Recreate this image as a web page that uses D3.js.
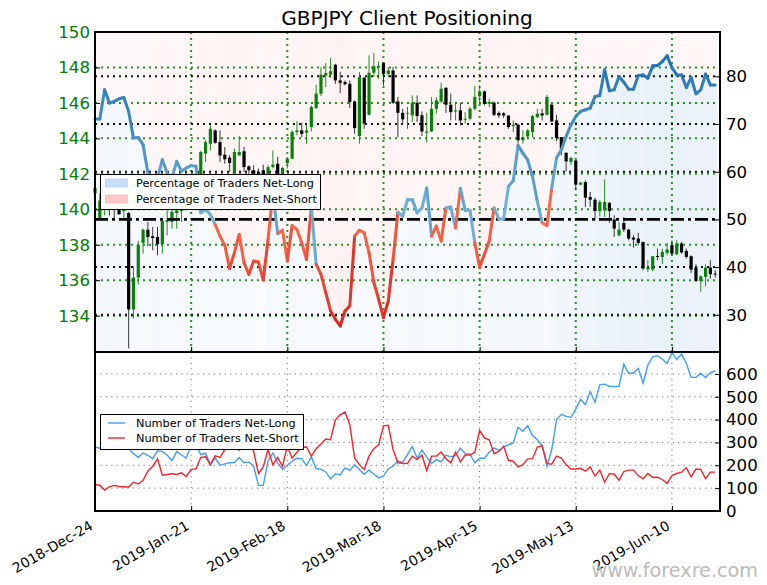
<!DOCTYPE html>
<html>
<head>
<meta charset="utf-8">
<script src="https://cdn.jsdelivr.net/npm/d3@7"></script>
<style>
  html, body { margin: 0; padding: 0; background: #fff; }
  text { font-family: "DejaVu Sans", sans-serif; }
</style>
</head>
<body>
<div id="chart"></div>
<script>
// daily candles, one row per trading day: open, high, low, close
var candles = [
[140.9,141.3,140.5,141.2],[139.47,140.9,139.4,140.5],[140.4,141,139.66,140.7],[140.8,141.1,139.66,140.3],[140.4,140.8,139.47,140.2],
[140.2,140.6,139.7,139.72],[139.9,140.5,139.42,140.2],[139.79,139.85,132.15,134.35],[134.35,136.79,133.84,136.15],[136.15,138.22,135.76,137.97],
[138.1,138.91,137.5,138.85],[138.85,139.29,137.91,138.44],[138.48,139,137.69,138.38],[138.44,139,137.41,138.03],[138.03,139.47,137.5,139.34],
[139.29,139.94,138.53,139.38],[139.29,140.32,138.91,139.85],[139.79,140.4,138.91,139.94],[139.9,140.6,139.29,140.2],[140.2,141,140,140.7],
[140.9,141.2,140.2,140.5],[140.6,141.7,140.3,141.4],[141.9,143.3,140.3,143.23],[143.14,143.89,142.67,143.79],[143.7,144.73,143.32,144.54],
[144.45,144.51,143.7,143.75],[143.79,144.45,142.67,143.04],[143.08,143.51,142.57,142.82],[142.91,143.04,142.1,142.61],[142,143.42,141.9,143.23],
[143.04,144.13,143.04,143.23],[143.27,143.51,142.1,142.38],[142.42,142.48,142,142.2],[142.2,142.48,141.8,142],[142.1,142.3,141.7,141.9],
[142.2,142.52,141.7,141.9],[141.9,142.48,141.7,142.38],[142.38,143.32,142.3,142.52],[142.57,142.95,141.9,142],[141.9,142.4,141.8,142.33],
[142.61,142.95,142.3,142.85],[142.85,144.45,142.85,144.36],[144.36,144.98,144.17,144.45],[144.45,144.88,144.07,144.26],[144.32,144.77,143.7,144.45],
[144.64,145.86,144.39,145.77],[145.71,147.02,145.67,146.52],[146.52,148.02,146.38,147.59],[147.55,148.24,146.89,147.68],[147.6,148.54,147.45,147.79],
[148.15,148.2,147.08,147.27],[147.27,147.74,146.55,147.13],[147.17,147.27,146.98,147.06],[147.08,147.27,145.71,146.05],[146.08,146.14,144.26,144.58],
[144.13,147.74,143.7,147.45],[147.42,147.45,144.54,144.83],[145.33,148.68,145.3,147.7],[147.7,148.81,147.45,148.07],[148.01,148.34,147.36,148.07],
[148.26,148.3,146.98,147.64],[147.64,148.02,147.45,147.83],[147.83,148.02,145.95,146.01],[146.08,146.33,144.07,145.44],[145.44,145.67,144.83,145.07],
[145.39,145.77,144.54,145.44],[145.3,146.42,144.92,146.01],[146.01,146.42,144.92,145.26],[145.3,145.52,144.13,144.39],[144.32,145.45,143.79,144.39],
[144.39,146.33,144.36,145.67],[145.67,146.33,145.39,146.14],[146.08,147.14,146.01,146.8],[146.85,146.89,145.44,145.9],[145.9,146.52,145.01,145.48],
[145.52,146.01,145.01,145.58],[145.58,146.01,144.73,145.01],[145.05,145.48,144.83,145.11],[145.11,145.77,145.01,145.67],[145.67,146.95,145.58,146.33],
[146.38,146.99,145.95,146.65],[146.65,146.7,145.86,145.95],[145.95,146.23,145.77,146.05],[146.01,146.08,145.26,145.33],[145.44,145.52,145.15,145.29],
[145.41,145.48,145.15,145.29],[145.29,145.29,144.54,144.64],[144.69,145.01,144.36,144.77],[144.77,144.83,143.7,143.89],[143.89,144.45,143.7,144.07],
[144.11,144.54,143.98,144.45],[144.36,145.33,144.07,145.26],[145.2,145.67,145.15,145.39],[145.41,145.67,145.01,145.29],[145.33,146.46,145.3,146.33],
[145.9,145.95,144.92,144.95],[145.01,145.33,143.83,144.02],[144.07,144.07,143.04,143.42],[143.19,143.19,142.14,142.7],[142.67,142.95,142.48,142.89],
[142.76,142.76,141.07,141.39],[141.39,141.54,141.35,141.5],[141.54,141.63,140.13,140.66],[140.69,140.98,140.13,140.54],[140.54,140.66,139.38,139.9],
[139.9,140.51,139.6,140.41],[139.94,141.69,139.57,140.41],[140.36,140.41,139.23,139.9],[139.42,139.66,138.44,138.91],[138.53,139.29,138.48,138.85],
[139.23,139.57,138.72,138.85],[138.85,138.91,138.25,138.35],[138.4,138.53,137.84,138.29],[138.35,138.67,137.97,138.1],[138.16,138.16,136.56,136.66],
[136.62,137.13,136.47,136.71],[136.6,137.37,136.51,137.35],[137.37,137.78,137.13,137.31],[137.31,137.78,136.9,137.6],[137.54,138.1,137.41,137.73],
[137.97,138.25,137.41,137.5],[137.46,138.25,137.41,138.07],[138.07,138.16,137.5,137.56],[137.65,137.78,137.22,137.31],[137.35,137.41,136.41,136.6],
[136.71,136.9,135.9,135.96],[135.96,136.28,135.34,136.22],[136.19,136.9,135.66,136.71],[136.71,137.13,136.09,136.34],[136.37,136.56,136.15,136.32]
];

// percentage of traders net long, same days
var pctLong = [
71.04,71.04,77.18,74.39,74.74,75.29,75.57,72.64,67.06,67.2,65.67,59.74,55.9,58.7,62.53,59.74,58.7,62.18,60.09,60.79,
61.28,61.14,51.4,52.07,51.03,48.94,46.5,44.55,39.67,43.02,46.85,40.92,38.48,41.27,41.06,37.29,45.8,55.55,47.04,47.74,
41.27,48.73,47.9,45.1,41.6,52.67,40.56,38.48,34.64,30.8,29.06,27.66,30.8,31.85,46.5,47.74,47.19,43,36.77,33.26,
29.41,32.9,41.6,51.5,50.66,54.15,54.15,51.4,52.4,56.6,46.5,48.6,45.45,52.4,52.6,48.2,56.5,51.9,51.9,45.1,
39.9,42.7,45.45,52.4,50.1,50.1,56.95,58.1,65.5,63.9,62.5,59,53.8,49.3,48.7,56.6,62.88,64.62,67.4,69.85,
71.6,72.64,73,73.34,75.78,75.99,81.36,76.97,77.18,79.97,78.78,77.3,77.3,80.17,80.3,79.6,82.2,82.27,83.1,84.3,
81.85,80.3,80.3,77.66,79.76,76.34,77.18,80.5,78.2,78.2
];

var numLong = [
280,275,290,298,290,283,276,273,251,235,254,244,229,263,261,245,221,260,245,232,
290,290,247,253,203,232,200,206,211,212,234,211,215,196,112,112,218,254,211,182,
200,218,231,228,199,237,186,182,171,141,163,158,189,177,202,182,161,180,161,145,
153,184,196,219,214,247,282,232,267,237,208,225,215,245,237,243,275,251,250,211,
231,231,257,276,266,280,290,298,366,349,373,330,312,286,196,269,399,423,414,410,
446,489,465,523,476,553,555,545,545,546,643,603,603,625,559,639,675,680,664,646,
693,664,687,646,585,585,603,584,606,613
];

var numShort = [
116,113,92,106,112,107,106,105,126,118,134,174,196,228,157,160,163,160,167,151,
182,184,235,237,202,241,235,269,290,276,266,283,298,261,164,193,269,202,235,196,
283,231,257,279,280,240,273,293,315,312,399,421,433,378,232,203,182,240,273,290,
373,375,269,211,209,208,240,225,245,177,240,241,258,229,211,258,215,245,245,257,
353,320,312,251,261,283,222,218,193,203,228,229,280,286,208,205,240,232,203,184,
184,187,174,193,153,179,126,164,161,135,173,179,179,155,141,164,147,148,138,121,
155,164,170,189,150,184,182,141,170,170
];

// a tick every 20 trading days
var dateTicks = {0:"2018-Dec-24", 20:"2019-Jan-21", 40:"2019-Feb-18", 60:"2019-Mar-18",
                 80:"2019-Apr-15", 100:"2019-May-13", 120:"2019-Jun-10"};
var tickIdx = Object.keys(dateTicks).map(Number);

var left = 95, right = 720, top1 = 32, bot1 = 352, bot2 = 511;
var width = right - left;

var svg = d3.select("#chart")
  .append("svg")
    .attr("width", 767)
    .attr("height", 585);

svg.append("text")
    .attr("x", 407)
    .attr("y", 25)
    .attr("text-anchor", "middle")
    .style("font-size", "20.1px")
    .text("GBPJPY Client Positioning");

// scales
var x = d3.scaleLinear().domain([0, 130]).range([left, right]);
var yPrice = d3.scaleLinear().domain([131.95, 150]).range([bot1, top1]);
var yPct = d3.scaleLinear().domain([22.2, 89.3]).range([bot1, top1]);
var yNum = d3.scaleLinear().domain([0, 696]).range([bot2, bot1]);

var panel1 = svg.append("g");
var panel2 = svg.append("g");

// stripes of colour behind the price, one for each day
panel1.selectAll(".shortBand")
    .data(pctLong)
    .enter().append("rect")
    .attr("x", function(d, i) { return x(i - 0.5); })
    .attr("width", x(1) - x(0))
    .attr("y", top1)
    .attr("height", function(d) { return yPct(d) - top1; })
    .attr("fill", "#f44")
    .attr("fill-opacity", function(d, i) { return 0.025 + numShort[i] / 433 * 0.05; });

panel1.selectAll(".longBand")
    .data(pctLong)
    .enter().append("rect")
    .attr("x", function(d, i) { return x(i - 0.5); })
    .attr("width", x(1) - x(0))
    .attr("y", function(d) { return yPct(d); })
    .attr("height", function(d) { return bot1 - yPct(d); })
    .attr("fill", "#3b82c8")
    .attr("fill-opacity", function(d, i) { return 0.015 + numLong[i] / 693 * 0.1; });

// grid of the top panel
var grid1 = panel1.append("g");
[134,136,138,140,142,144,146,148].forEach(function(p) {
  grid1.append("line")
    .attr("x1", left).attr("x2", right)
    .attr("y1", yPrice(p)).attr("y2", yPrice(p))
    .attr("stroke", "#2a912a").attr("stroke-width", 2).attr("stroke-dasharray", "2,4");
});
tickIdx.forEach(function(i) {
  grid1.append("line")
    .attr("x1", x(i)).attr("x2", x(i))
    .attr("y1", top1).attr("y2", bot1)
    .attr("stroke", "#2a912a").attr("stroke-width", 2).attr("stroke-dasharray", "2,4");
});
[30,40,60,70,80].forEach(function(p) {
  grid1.append("line")
    .attr("x1", left).attr("x2", right)
    .attr("y1", yPct(p)).attr("y2", yPct(p))
    .attr("stroke", "#111").attr("stroke-width", 2).attr("stroke-dasharray", "2,4");
});

// candles
var candle = panel1.selectAll(".candle")
    .data(candles)
    .enter().append("g")
    .attr("class", "candle");

candle.append("line")
    .attr("x1", function(d, i) { return x(i); })
    .attr("x2", function(d, i) { return x(i); })
    .attr("y1", function(d) { return yPrice(d[1]); })
    .attr("y2", function(d) { return yPrice(d[2]); })
    .attr("stroke", function(d) { return d[3] >= d[0] ? "#0a800a" : "#222"; })
    .attr("stroke-width", 0.9);

candle.append("rect")
    .attr("x", function(d, i) { return x(i) - 1.6; })
    .attr("width", 3.2)
    .attr("y", function(d) { return yPrice(Math.max(d[0], d[3])); })
    .attr("height", function(d) { return Math.max(0.8, Math.abs(yPrice(d[0]) - yPrice(d[3]))); })
    .attr("fill", function(d) { return d[3] >= d[0] ? "#0a800a" : "#000"; });

// 50% line
panel1.append("line")
    .attr("x1", left).attr("x2", right)
    .attr("y1", yPct(50)).attr("y2", yPct(50))
    .attr("stroke", "#000").attr("stroke-width", 2.6).attr("stroke-dasharray", "13,4,3,4");

// sentiment line, each segment takes its colour from where it starts
var blueShade = d3.scaleLinear().domain([50, 85]).range(["#6fb0da", "#1f6fb2"]);
var redShade = d3.scaleLinear().domain([27, 50]).range(["#d92520", "#fb6a4a"]);
var pctLine = d3.line()
    .x(function(d) { return x(d.i); })
    .y(function(d) { return yPct(d.v); });

pctLong.slice(0, -1).forEach(function(v, i) {
  panel1.append("path")
    .datum([{i: i, v: v}, {i: i + 1, v: pctLong[i + 1]}])
    .attr("d", pctLine)
    .attr("fill", "none")
    .attr("stroke", v >= 50 ? blueShade(v) : redShade(v))
    .attr("stroke-width", 3)
    .attr("stroke-linecap", "round");
});

// grid of the bottom panel
[100,200,300,400,500,600].forEach(function(n) {
  panel2.append("line")
    .attr("x1", left).attr("x2", right)
    .attr("y1", yNum(n)).attr("y2", yNum(n))
    .attr("stroke", "#777").attr("stroke-width", 1).attr("stroke-dasharray", "1.2,4.2");
});
tickIdx.forEach(function(i) {
  panel2.append("line")
    .attr("x1", x(i)).attr("x2", x(i))
    .attr("y1", bot1).attr("y2", bot2)
    .attr("stroke", "#777").attr("stroke-width", 1).attr("stroke-dasharray", "1.2,4.2");
});

var numLine = d3.line()
    .x(function(d, i) { return x(i); })
    .y(function(d) { return yNum(d); });

panel2.append("path")
    .datum(numLong)
    .attr("d", numLine)
    .attr("fill", "none")
    .attr("stroke", "#3f9ef5")
    .attr("stroke-width", 1.4);

panel2.append("path")
    .datum(numShort)
    .attr("d", numLine)
    .attr("fill", "none")
    .attr("stroke", "#f5222a")
    .attr("stroke-width", 1.4);

// axes
function styleAxis(g, size, color) {
  g.select(".domain").remove();
  g.selectAll(".tick line").attr("stroke", "#000").attr("stroke-width", 1);
  g.selectAll(".tick text").style("font-size", size + "px").attr("fill", color);
}

var axisPrice = svg.append("g")
    .attr("transform", "translate(" + left + ",0)")
    .call(d3.axisLeft(yPrice).tickValues([134,136,138,140,142,144,146,148,150]).tickSize(-5).tickPadding(5).tickFormat(d3.format("d")));
styleAxis(axisPrice, 16.67, "#008000");

var axisPct = svg.append("g")
    .attr("transform", "translate(" + right + ",0)")
    .call(d3.axisRight(yPct).tickValues([30,40,50,60,70,80]).tickSize(-5).tickPadding(6));
styleAxis(axisPct, 16.67, "#000");

var axisNum = svg.append("g")
    .attr("transform", "translate(" + right + ",0)")
    .call(d3.axisRight(yNum).tickValues([0,100,200,300,400,500,600]).tickSize(-5).tickPadding(6));
styleAxis(axisNum, 16.67, "#000");

var axisX1 = svg.append("g")
    .attr("transform", "translate(0," + bot1 + ")")
    .call(d3.axisBottom(x).tickValues(tickIdx).tickSize(-5).tickFormat(""));
styleAxis(axisX1, 10, "#000");

var axisX2 = svg.append("g")
    .attr("transform", "translate(0," + bot2 + ")")
    .call(d3.axisBottom(x).tickValues(tickIdx).tickSize(-5).tickFormat(function(d) { return dateTicks[d]; }));
styleAxis(axisX2, 13.9, "#000");
axisX2.selectAll(".tick text")
    .attr("text-anchor", "end")
    .attr("y", 0)
    .attr("dy", 0)
    .attr("transform", "translate(-7,8) rotate(-30) translate(0,11)");

// panel frames
[[top1, bot1], [bot1, bot2]].forEach(function(p) {
  svg.append("rect")
    .attr("x", left).attr("y", p[0])
    .attr("width", width).attr("height", p[1] - p[0])
    .attr("fill", "none")
    .attr("stroke", "#000")
    .attr("stroke-width", 2);
});

// legends
var legend1 = svg.append("g");
legend1.append("rect")
    .attr("x", 100.5).attr("y", 174.5).attr("width", 220).attr("height", 35)
    .attr("fill", "#fff").attr("stroke", "#000");
[["Percentage of Traders Net-Long", "#c6e0fa", "#9fcbf5"],
 ["Percentage of Traders Net-Short", "#ffc8c8", "#ffa9a9"]].forEach(function(d, i) {
  legend1.append("rect")
    .attr("x", 105.5).attr("y", 179 + i * 16).attr("width", 22).attr("height", 8)
    .attr("fill", d[1]).attr("stroke", d[2]).attr("stroke-width", 0.6);
  legend1.append("text")
    .attr("x", 136).attr("y", 187 + i * 16)
    .style("font-size", "11.3px")
    .text(d[0]);
});

var legend2 = svg.append("g");
legend2.append("rect")
    .attr("x", 100.5).attr("y", 414.5).attr("width", 203).attr("height", 35)
    .attr("fill", "#fff").attr("stroke", "#000");
[["Number of Traders Net-Long", "#3f9ef5"],
 ["Number of Traders Net-Short", "#f5222a"]].forEach(function(d, i) {
  legend2.append("line")
    .attr("x1", 108).attr("x2", 125)
    .attr("y1", 423 + i * 15).attr("y2", 423 + i * 15)
    .attr("stroke", d[1]).attr("stroke-width", 1.4);
  legend2.append("text")
    .attr("x", 136).attr("y", 427 + i * 15)
    .style("font-size", "11.3px")
    .text(d[0]);
});

svg.append("text")
    .attr("x", 758)
    .attr("y", 577)
    .attr("text-anchor", "end")
    .attr("fill", "#bbb")
    .style("font-size", "19.2px")
    .text("www.forexre.com");
</script>
</body>
</html>
